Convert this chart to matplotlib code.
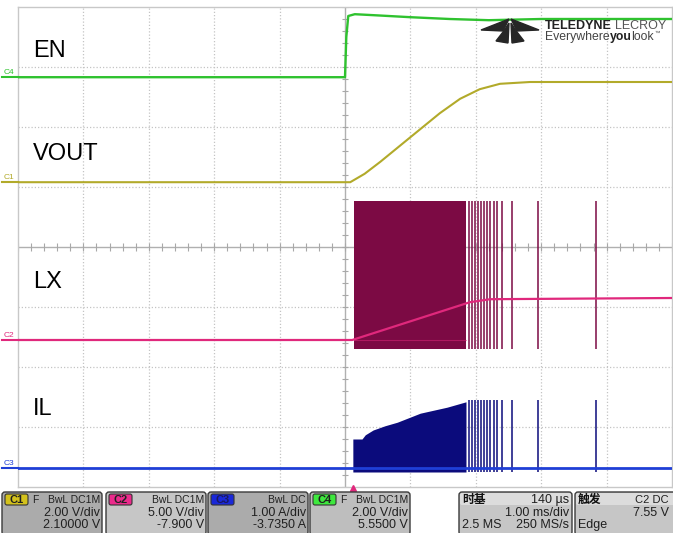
import matplotlib
matplotlib.use('Agg')
import matplotlib.pyplot as plt
from matplotlib.patches import FancyBboxPatch, Polygon
import numpy as np

plt.rcParams['font.family'] = ['Liberation Sans', 'Noto Sans CJK SC', 'DejaVu Sans']

# ---------------- data: time in ms (0 = screen centre), amplitude in screen divisions ----------------
en_t = [-5.0, 0.0, 0.02, 0.05, 0.15, 0.5, 1.0, 1.6, 2.2, 3.0, 5.0]
en_v = [2.83, 2.83, 3.50, 3.85, 3.88, 3.86, 3.83, 3.80, 3.78, 3.80, 3.80]

vout_t = [-5.0, 0.08, 0.30, 0.54, 1.00, 1.45, 1.76, 2.06, 2.37, 2.83, 5.0]
vout_v = [1.08, 1.08, 1.22, 1.42, 1.83, 2.23, 2.47, 2.63, 2.72, 2.75, 2.75]

lx_t = [-5.0, 0.11, 1.91, 2.22, 5.0]
lx_v = [-1.55, -1.55, -0.92, -0.87, -0.85]
lx_burst_t = [0.14, 1.85]
lx_high = 0.77
lx_low = -1.70
pulse_t = [1.90, 1.94, 1.99, 2.03, 2.08, 2.13, 2.17, 2.22, 2.28, 2.32, 2.40, 2.55, 2.95, 3.84]

il_base = -3.68
il_env_t = [0.12, 0.26, 0.31, 0.43, 0.61, 0.80, 1.15, 1.56, 1.85]
il_env_v = [-3.20, -3.20, -3.13, -3.05, -2.98, -2.92, -2.77, -2.67, -2.58]
il_pulse_top = -2.55
il_floor = -3.75

trace_labels = ['EN', 'VOUT', 'LX', 'IL']
label_y = [3.17, 1.45, -0.68, -2.80]
marker_names = ['C4', 'C1', 'C2', 'C3']
marker_levels = [2.83, 1.08, -1.55, -3.68]

ch_names = ['C1', 'C2', 'C3', 'C4']
ch_flag = ['F', '', '', 'F']
ch_cpl = ['BwL DC1M', 'BwL DC1M', 'BwL DC', 'BwL DC1M']
ch_scale = ['2.00 V/div', '5.00 V/div', '1.00 A/div', '2.00 V/div']
ch_offset = ['2.10000 V', '-7.900 V', '-3.7350 A', '5.5500 V']
tb_text = ['时基', '140 µs', '1.00 ms/div', '2.5 MS', '250 MS/s']
trig_text = ['触发', 'C2 DC', '7.55 V', 'Edge']

# ---------------- styles ----------------
GREEN = '#2fc22f'
YELLOW = '#b2aa2a'
PINK = '#e0287c'
MAROON = '#7c0a44'
NAVY = '#0b0b7c'
BLUE = '#1f3fd6'
GRID = '#c4c4c4'
tag_colors = ['#d4c21c', '#ec2a8c', '#1a28d8', '#3ee83e']
box_colors = ['#ababab', '#c6c6c6', '#ababab', '#bebebe']
marker_colors = [GREEN, YELLOW, PINK, BLUE]

W, H = 673, 533
fig = plt.figure(figsize=(W / 100, H / 100), dpi=100)
fig.patch.set_facecolor('white')
ax = fig.add_axes([18 / W, (H - 487) / H, 654 / W, 480 / H])
ax.set_xlim(-5, 5)
ax.set_ylim(-4, 4)
ax.set_xticks([])
ax.set_yticks([])
for s in ax.spines.values():
    s.set_color('#c8c8c8')
    s.set_linewidth(1.0)

# grid
for t in range(-4, 5):
    if t == 0:
        continue
    ax.axvline(t, color=GRID, lw=0.9, ls=(0, (1, 1.6)), zorder=1)
for v in range(-3, 4):
    if v == 0:
        continue
    ax.axhline(v, color=GRID, lw=0.9, ls=(0, (1, 1.6)), zorder=1)
ax.axvline(0, color='#b0b0b0', lw=1.0, zorder=1)
ax.axhline(0, color='#b0b0b0', lw=1.0, zorder=1)
ax.vlines(np.arange(-5, 5.01, 0.2), -0.06, 0.06, color='#a8a8a8', lw=0.8, zorder=1)
ax.hlines(np.arange(-4, 4.01, 0.2), -0.05, 0.05, color='#a8a8a8', lw=0.8, zorder=1)

# LX burst and pulses
ax.fill_between(lx_burst_t, [lx_low] * 2, [lx_high] * 2, color=MAROON, lw=0, zorder=3)
ax.vlines(pulse_t, lx_low, lx_high, color=MAROON, lw=1.1, zorder=3)
ax.plot([lx_burst_t[0], lx_burst_t[1]], [lx_v[0], lx_v[0]], color=PINK, lw=0.8, alpha=0.5, zorder=4)
ax.plot(lx_t, lx_v, color=PINK, lw=1.6, zorder=4)

# IL burst and pulses
ax.fill_between(il_env_t, [il_floor] * len(il_env_t), il_env_v, color=NAVY, lw=0, zorder=3)
ax.vlines(pulse_t, il_floor, il_pulse_top, color=NAVY, lw=1.1, zorder=3)
ax.plot([-5, 5], [il_base, il_base], color=BLUE, lw=2.0, zorder=4)

# EN and VOUT
ax.plot(en_t, en_v, color=GREEN, lw=1.7, zorder=4)
ax.plot(vout_t, vout_v, color=YELLOW, lw=1.5, zorder=4)

# trace labels
for lab, y in zip(trace_labels, label_y):
    ax.text(-4.77, y, lab, fontsize=17, color='black', ha='left', va='baseline', zorder=6)

# channel markers on the left edge
for name, lvl, c in zip(marker_names, marker_levels, marker_colors):
    ax.plot([-5.25, -5.0], [lvl, lvl], color=c, lw=1.5, clip_on=False, zorder=5)
    ax.text(-5.22, lvl + 0.02, name, fontsize=6, color=c, ha='left', va='bottom', clip_on=False)

# ---------------- overlay (pixel coordinates) ----------------
ov = fig.add_axes([0, 0, 1, 1])
ov.set_xlim(0, W)
ov.set_ylim(H, 0)
ov.axis('off')
ov.patch.set_alpha(0)

# trigger marker
ov.plot([353], [488], marker='^', color=PINK, ms=5, clip_on=False)

# logo
logo = '#262626'
polys = [
    [(481, 30), (509, 19), (503, 31)],
    [(539, 30), (511, 19), (517, 31)],
    [(503, 32), (509, 23), (508, 43), (496, 41)],
    [(517, 32), (511, 23), (512, 43), (524, 41)],
]
for p in polys:
    ov.add_patch(Polygon(p, closed=True, color=logo, zorder=6))

renderer = fig.canvas.get_renderer()


def chain(parts, x, y, size):
    """Place text pieces one after another (pixel coords)."""
    for txt, weight, col, gap in parts:
        t = ov.text(x, y, txt, fontsize=size, fontweight=weight, color=col,
                    ha='left', va='baseline', zorder=6)
        bb = t.get_window_extent(renderer=renderer)
        x += bb.width + gap
    return x


chain([('TELEDYNE', 'bold', '#222222', 3), ('LECROY', 'normal', '#555555', 0)], 545, 29, 9)
xe = chain([('Everywhere', 'normal', '#444444', 0), ('you', 'bold', '#222222', 0),
            ('look', 'normal', '#444444', 0)], 545, 40, 8.8)
ov.text(xe, 35, '™', fontsize=4, color='#444444', ha='left', va='baseline', zorder=6)

# status bar boxes
box_x = [2, 106, 208, 310]
box_w = 100
y0, y1 = 492, 535
for i in range(4):
    x = box_x[i]
    ov.add_patch(FancyBboxPatch((x, y0), box_w, y1 - y0, boxstyle='round,pad=0,rounding_size=3',
                                fc=box_colors[i], ec='#3a3a3a', lw=1.0, zorder=5))
    ov.add_patch(FancyBboxPatch((x + 3, y0 + 2), 23, 11, boxstyle='round,pad=0,rounding_size=2',
                                fc=tag_colors[i], ec='#333333', lw=0.8, zorder=6))
    ov.text(x + 14.5, y0 + 8, ch_names[i], fontsize=8, fontweight='bold',
            color='#1a1a60' if i == 2 else '#202020', ha='center', va='center', zorder=7)
    if ch_flag[i]:
        ov.text(x + 30, y0 + 8, ch_flag[i], fontsize=7.5, color='#202020', ha='left', va='center', zorder=7)
    ov.text(x + box_w - 2, y0 + 8, ch_cpl[i], fontsize=7.5, color='#202020', ha='right', va='center', zorder=7)
    ov.text(x + box_w - 2, y0 + 20.5, ch_scale[i], fontsize=9, color='#202020', ha='right', va='center', zorder=7)
    ov.text(x + box_w - 2, y0 + 33, ch_offset[i], fontsize=9, color='#202020', ha='right', va='center', zorder=7)

# timebase box
tx, tw = 459, 113
ov.add_patch(FancyBboxPatch((tx, y0), tw, y1 - y0, boxstyle='round,pad=0,rounding_size=3',
                            fc='#c6c6c6', ec='#3a3a3a', lw=1.0, zorder=5))
ov.add_patch(FancyBboxPatch((tx + 1, y0 + 1), tw - 2, 12, boxstyle='round,pad=0,rounding_size=2',
                            fc='#dcdcdc', ec='none', zorder=5))
ov.text(tx + 3, y0 + 8, tb_text[0], fontsize=8.5, fontweight='bold', color='#111111', ha='left', va='center', zorder=7)
ov.text(tx + tw - 3, y0 + 8, tb_text[1], fontsize=9, color='#202020', ha='right', va='center', zorder=7)
ov.text(tx + tw - 3, y0 + 20.5, tb_text[2], fontsize=9, color='#202020', ha='right', va='center', zorder=7)
ov.text(tx + 3, y0 + 33, tb_text[3], fontsize=9, color='#202020', ha='left', va='center', zorder=7)
ov.text(tx + tw - 3, y0 + 33, tb_text[4], fontsize=9, color='#202020', ha='right', va='center', zorder=7)

# trigger box
gx, gw = 575, 102
ov.add_patch(FancyBboxPatch((gx, y0), gw, y1 - y0, boxstyle='round,pad=0,rounding_size=3',
                            fc='#c6c6c6', ec='#3a3a3a', lw=1.0, zorder=5))
ov.add_patch(FancyBboxPatch((gx + 1, y0 + 1), gw - 2, 12, boxstyle='round,pad=0,rounding_size=2',
                            fc='#dcdcdc', ec='none', zorder=5))
ov.text(gx + 3, y0 + 8, trig_text[0], fontsize=8.5, fontweight='bold', color='#111111', ha='left', va='center', zorder=7)
ov.text(W - 4, y0 + 8, trig_text[1], fontsize=8, color='#202020', ha='right', va='center', zorder=7)
ov.text(W - 4, y0 + 20.5, trig_text[2], fontsize=9, color='#202020', ha='right', va='center', zorder=7)
ov.text(gx + 3, y0 + 33, trig_text[3], fontsize=9, color='#202020', ha='left', va='center', zorder=7)

fig.savefig('out.png', dpi=100, facecolor='white')
